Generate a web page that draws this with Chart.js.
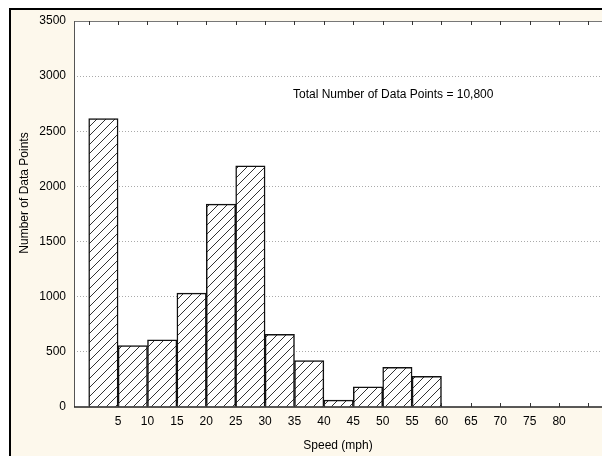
<!DOCTYPE html>
<html>
<head>
<meta charset="utf-8">
<script src="https://cdn.jsdelivr.net/npm/chart.js@4.4.0/dist/chart.umd.min.js"></script>
<style>
  html, body { margin: 0; padding: 0; background: #fff; }
  #wrap { width: 602px; height: 456px; }
</style>
</head>
<body>
<div id="wrap"><canvas id="chart1" width="602" height="456"></canvas></div>
<script>
// bin centres (mph) and counts
const binCentres = [2.5, 7.5, 12.5, 17.5, 22.5, 27.5, 32.5, 37.5, 42.5, 47.5, 52.5, 57.5];
const counts = [2615, 556, 608, 1032, 1839, 2187, 660, 420, 63, 184, 360, 278];
const xTicks = [0, 5, 10, 15, 20, 25, 30, 35, 40, 45, 50, 55, 60, 65, 70, 75, 80, 85];
const xLabelled = [5, 10, 15, 20, 25, 30, 35, 40, 45, 50, 55, 60, 65, 70, 75, 80];
const yTicks = [0, 500, 1000, 1500, 2000, 2500, 3000, 3500];
const noteText = "Total Number of Data Points = 10,800";
const xTitle = "Speed (mph)";
const yTitle = "Number of Data Points";

const FONT = "'Liberation Sans', Arial, sans-serif";

function hatchPattern() {
  const size = 9;
  const c = document.createElement("canvas");
  c.width = size;
  c.height = size;
  const g = c.getContext("2d");
  g.fillStyle = "#fff";
  g.fillRect(0, 0, size, size);
  g.strokeStyle = "#333";
  g.lineWidth = 1;
  g.beginPath();
  g.moveTo(-1, size + 1);
  g.lineTo(size + 1, -1);
  g.moveTo(-1, 1);
  g.lineTo(1, -1);
  g.moveTo(size - 1, size + 1);
  g.lineTo(size + 1, size - 1);
  g.stroke();
  return g.createPattern(c, "repeat");
}

const frame = {
  id: "frame",
  beforeDraw(chart) {
    const ctx = chart.ctx;
    const a = chart.chartArea;
    ctx.save();
    ctx.fillStyle = "#fff";
    ctx.fillRect(0, 0, chart.width, chart.height);
    ctx.fillStyle = "#fdf8ec";
    ctx.fillRect(9, 8, chart.width - 9, chart.height - 8);
    ctx.fillStyle = "#000";
    ctx.fillRect(9, 8, chart.width - 9, 2);
    ctx.fillRect(9, 8, 2, chart.height - 8);
    ctx.fillStyle = "#fff";
    ctx.fillRect(a.left, a.top, a.right - a.left, a.bottom - a.top);
    ctx.restore();
  },
  afterDraw(chart) {
    const ctx = chart.ctx;
    const a = chart.chartArea;
    const x = chart.scales.x;
    ctx.save();
    ctx.lineWidth = 1;
    ctx.strokeStyle = "#777";
    ctx.beginPath();
    ctx.moveTo(a.left, a.top + 0.5);
    ctx.lineTo(a.right, a.top + 0.5);
    ctx.stroke();
    ctx.strokeStyle = "#555";
    ctx.beginPath();
    ctx.moveTo(a.left + 0.5, a.top);
    ctx.lineTo(a.left + 0.5, a.bottom);
    ctx.stroke();
    ctx.strokeStyle = "#222";
    ctx.lineWidth = 1.5;
    ctx.beginPath();
    ctx.moveTo(a.left, a.bottom);
    ctx.lineTo(a.right, a.bottom);
    ctx.stroke();
    // inward tick marks on top and bottom edges
    ctx.lineWidth = 1;
    ctx.strokeStyle = "#333";
    ctx.beginPath();
    xTicks.forEach(v => {
      const px = Math.round(x.getPixelForValue(v)) + 0.5;
      ctx.moveTo(px, a.bottom);
      ctx.lineTo(px, a.bottom - 4);
      ctx.moveTo(px, a.top);
      ctx.lineTo(px, a.top + 4);
    });
    ctx.stroke();
    // annotation and y title
    ctx.fillStyle = "#000";
    ctx.font = "12px " + FONT;
    ctx.textBaseline = "middle";
    ctx.textAlign = "left";
    ctx.fillText(noteText, 293, 95);
    ctx.translate(25, 193);
    ctx.rotate(-Math.PI / 2);
    ctx.textAlign = "center";
    ctx.fillText(yTitle, 0, 0);
    ctx.restore();
  },
};

new Chart(document.getElementById("chart1"), {
  type: "bar",
  data: {
    datasets: [
      {
        data: binCentres.map((c, i) => ({ x: c, y: counts[i] })),
        backgroundColor: hatchPattern(),
        borderColor: "#111",
        borderWidth: 1.5,
        barPercentage: 1,
        categoryPercentage: 1,
      },
    ],
  },
  options: {
    responsive: false,
    animation: false,
    layout: { padding: { left: 0, top: 21, right: 0, bottom: 0 } },
    plugins: {
      legend: { display: false },
      tooltip: { enabled: false },
    },
    scales: {
      x: {
        type: "linear",
        offset: false,
        min: -2.5,
        max: 87.3,
        afterBuildTicks: scale => {
          scale.ticks = xTicks.map(v => ({ value: v }));
        },
        afterFit: scale => {
          scale.height = 49;
        },
        grid: { display: false, drawTicks: false },
        border: { display: false },
        ticks: {
          padding: 7,
          maxRotation: 0,
          autoSkip: false,
          color: "#000",
          font: { family: FONT, size: 12 },
          callback: v => (xLabelled.includes(v) ? String(v) : ""),
        },
        title: {
          display: true,
          text: xTitle,
          color: "#000",
          font: { family: FONT, size: 12 },
          padding: { top: 0, bottom: 3 },
        },
      },
      y: {
        min: 0,
        max: 3500,
        afterBuildTicks: scale => {
          scale.ticks = yTicks.map(v => ({ value: v }));
        },
        afterFit: scale => {
          scale.width = 74;
        },
        grid: {
          drawTicks: false,
          color: ctx => (ctx.tick && ctx.tick.value > 0 && ctx.tick.value < 3500 ? "#aaa" : "rgba(0,0,0,0)"),
          lineWidth: 1,
        },
        border: { display: false, dash: [1, 2] },
        ticks: {
          padding: 8,
          color: "#000",
          font: { family: FONT, size: 12 },
          callback: v => String(v),
        },
      },
    },
  },
  plugins: [frame],
});
</script>
</body>
</html>
